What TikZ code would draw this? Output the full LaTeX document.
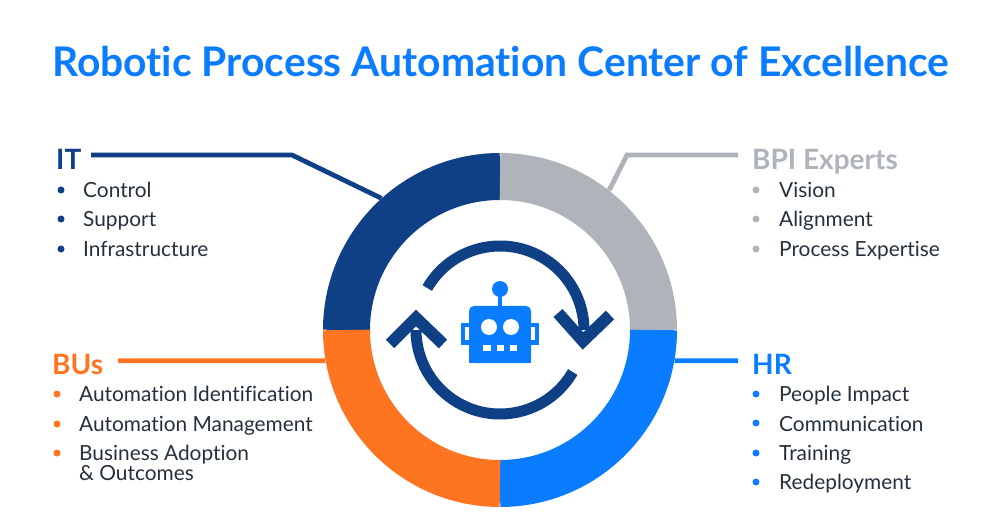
\documentclass[tikz,border=0pt]{standalone}
\usepackage{fontspec}
\setmainfont{Lato}[Ligatures=NoCommon]
\definecolor{navy}{HTML}{0F3F85}
\definecolor{greyc}{HTML}{AFB3BA}
\definecolor{bluec}{HTML}{0A7CFF}
\definecolor{orangec}{HTML}{FF7420}
\definecolor{inkc}{HTML}{25303C}
\tikzset{
  head/.style={anchor=base west,inner sep=0pt,yshift=-1.5pt,font=\fontsize{28}{28}\selectfont\bfseries},
  item/.style={anchor=base west,inner sep=0pt,yshift=-0.7pt,text=inkc,font=\fontsize{20.85}{20.85}\selectfont},
  dot/.style={circle,inner sep=0pt,minimum size=7pt},
  lead/.style={line width=4.8pt,line join=miter},
  sector/.style={line width=47pt},
  cyc/.style={line width=11pt,draw=navy},
  chev/.style={line width=12pt,draw=navy,line join=miter},
}
\begin{document}
\begin{tikzpicture}[x=1pt,y=1pt]
\useasboundingbox (0,0) rectangle (998,517);
\node[anchor=base west,inner sep=0pt,text=bluec,font=\fontsize{40.8}{40.8}\selectfont\bfseries] (title) at (52,440) {Robotic Process Automation Center of Excellence};
% ring
\node[circle,minimum size=354pt,inner sep=0pt] (ring) at (500,187) {};
\draw[sector,navy] (ring.center) ++(180:153.5) arc (180:90:153.5);
\draw[sector,greyc] (ring.center) ++(90:153.5) arc (90:0:153.5);
\draw[sector,bluec] (ring.center) ++(0:153.5) arc (0:-90:153.5);
\draw[sector,orangec] (ring.center) ++(-90:153.5) arc (-90:-180:153.5);
% cycle arrows
\draw[cyc] (ring.center) ++(150:84) arc (150:0:84);
\draw[chev] (558,204) -- (583,176) -- (610,202);
\draw[cyc] (ring.center) ++(-30:84) arc (-30:-180:84);
\draw[chev] (390,173) -- (416,199) -- (443,173);
% robot
\fill[bluec] (500,228) circle (8);
\fill[bluec] (498,228) rectangle (502,208);
\fill[bluec,rounded corners=5pt] (469,154) -- (469,211) -- (531,211) -- (531,154) -- cycle;
\fill[bluec] (469,154) rectangle (531,165);
\fill[bluec] (461,172) rectangle (470,194);
\fill[bluec] (530,172) rectangle (539,194);
\fill[white] (465,177) rectangle (469,190);
\fill[white] (531,177) rectangle (535,190);
\fill[white] (489,190) circle (8);
\fill[white] (511,190) circle (8);
\fill[white] (483,166) rectangle (491,172);
\fill[white] (497,166) rectangle (504,172);
\fill[white] (510,166) rectangle (517,172);
% IT
\node[head,text=navy] (ith) at (56,349) {IT};
\coordinate (itstart) at (91,362);
\coordinate (itbend) at (292,362);
\draw[lead,navy] (itstart) -- (itbend) -- (ring.132.7);
\node[dot,fill=navy] (itd1) at (61,327) {};
\node[dot,fill=navy] (itd2) at (61,298) {};
\node[dot,fill=navy] (itd3) at (61,268) {};
\node[item] (it1) at (83,320) {Control};
\node[item] (it2) at (83,291) {Support};
\node[item] (it3) at (83,261) {Infrastructure};
% BPI
\node[head,text=greyc] (bpih) at (752,349) {BPI Experts};
\coordinate (bpistart) at (738,362);
\coordinate (bpibend) at (627,362);
\draw[lead,greyc] (bpistart) -- (bpibend) -- (ring.52.6);
\node[dot,fill=greyc] (bpid1) at (756,327) {};
\node[dot,fill=greyc] (bpid2) at (756,298) {};
\node[dot,fill=greyc] (bpid3) at (756,268) {};
\node[item] (bpi1) at (779,320) {Vision};
\node[item] (bpi2) at (779,291) {Alignment};
\node[item] (bpi3) at (779,261) {Process Expertise};
% BUs
\node[head,text=orangec] (bush) at (52,144) {BUs};
\coordinate (busstart) at (118,156.3);
\draw[lead,orangec] (busstart) -- (ring.190);
\node[dot,fill=orangec] (busd1) at (57,123) {};
\node[dot,fill=orangec] (busd2) at (57,93) {};
\node[dot,fill=orangec] (busd3) at (57,64) {};
\node[item] (bus1) at (79,116) {Automation Identification};
\node[item] (bus2) at (79,86) {Automation Management};
\node[item] (bus3) at (79,57) {Business Adoption};
\node[item] (bus4) at (79,37) {\& Outcomes};
% HR
\node[head,text=bluec] (hrh) at (752,144) {HR};
\coordinate (hrstart) at (738,156.3);
\draw[lead,bluec] (ring.-10) -- (hrstart);
\node[dot,fill=bluec] (hrd1) at (756,123) {};
\node[dot,fill=bluec] (hrd2) at (756,94) {};
\node[dot,fill=bluec] (hrd3) at (756,64) {};
\node[dot,fill=bluec] (hrd4) at (756,35) {};
\node[item] (hr1) at (779,116) {People Impact};
\node[item] (hr2) at (779,86) {Communication};
\node[item] (hr3) at (779,57) {Training};
\node[item] (hr4) at (779,28) {Redeployment};
\end{tikzpicture}
\end{document}
